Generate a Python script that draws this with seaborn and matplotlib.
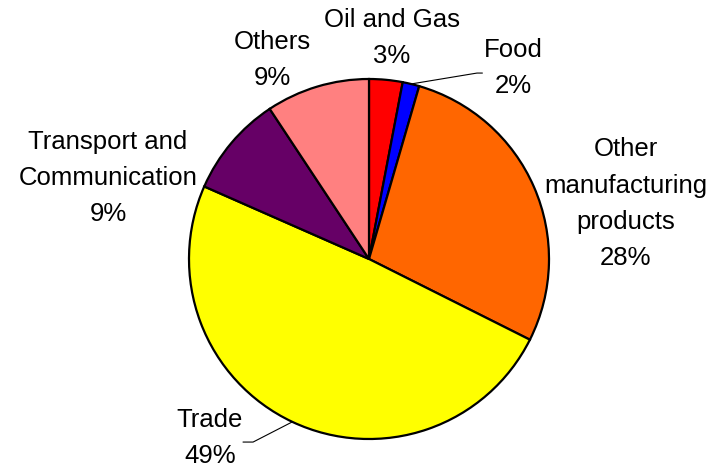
import matplotlib
matplotlib.use("Agg")
import matplotlib.pyplot as plt
import numpy as np
import seaborn as sns

# Share of each sector (percent), clockwise from the top
sectors = ["Oil and Gas", "Food", "Other\nmanufacturing\nproducts", "Trade",
           "Transport and\nCommunication", "Others"]
shares = [3.0, 1.5, 27.9, 49.2, 9.1, 9.3]
colors = ["#FF0000", "#0000FF", "#FF6600", "#FFFF00", "#660066", "#FF8080"]

# Label anchor points (data units, pie radius = 1)
label_xy = [(0.128, 1.228), (0.80, 1.061), (1.425, 0.306),
            (-0.883, -0.994), (-1.45, 0.45), (-0.539, 1.106)]
# Sectors whose label is joined to its wedge by a leader line: end point of line
leaders = {1: [(0.60, 1.033), (0.63, 1.033)],
           3: [(-0.644, -1.017), (-0.70, -1.017)]}

sns.set_theme(style="white")
plt.rcParams["font.family"] = ["Liberation Sans", "DejaVu Sans"]

fig = plt.figure(figsize=(7.15, 4.70), dpi=100)
ax = fig.add_axes([0, 0, 1, 1])

wedges, _ = ax.pie(shares, colors=colors, startangle=90, counterclock=False,
                   radius=1.0, wedgeprops=dict(edgecolor="black", linewidth=1.6))

for i, (w, name, val) in enumerate(zip(wedges, sectors, shares)):
    x, y = label_xy[i]
    ax.text(x, y, f"{name}\n{round(val)}%", ha="center", va="center",
            fontsize=18.5, color="black", linespacing=1.65)
    if i in leaders:
        mid = np.deg2rad((w.theta1 + w.theta2) / 2)
        pts = [(np.cos(mid), np.sin(mid))] + leaders[i]
        xs, ys = zip(*pts)
        ax.plot(xs, ys, color="black", linewidth=0.8)

ax.set_xlim(-369 / 180, (715 - 369) / 180)
ax.set_ylim(-(470 - 259) / 180, 259 / 180)
ax.set_aspect("equal")
ax.axis("off")

fig.savefig("out.png", dpi=100, facecolor="white")
